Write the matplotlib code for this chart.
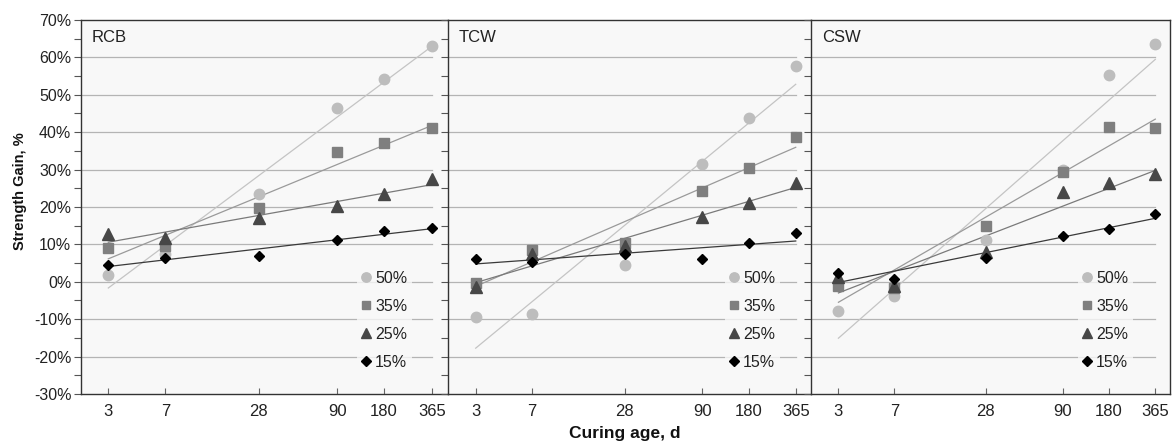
import numpy as np
import matplotlib
matplotlib.use("Agg")
import matplotlib.pyplot as plt
from matplotlib.ticker import FixedLocator, MultipleLocator, FuncFormatter, NullFormatter

plt.rcParams['font.family'] = ['Liberation Sans', 'DejaVu Sans']

# ---- data ----
ages = [3, 7, 28, 90, 180, 365]
age_labels = ["3", "7", "28", "90", "180", "365"]
panels = ["RCB", "TCW", "CSW"]
series = ["50%", "35%", "25%", "15%"]

rcb_50 = [1.9, 7.5, 23.6, 46.6, 54.2, 63.1]
rcb_35 = [9.0, 9.7, 19.7, 34.6, 37.0, 41.0]
rcb_25 = [12.7, 11.7, 17.0, 20.2, 23.6, 27.6]
rcb_15 = [4.5, 6.4, 7.0, 11.2, 13.5, 14.3]

tcw_50 = [-9.3, -8.7, 4.5, 31.6, 43.8, 57.6]
tcw_35 = [-0.4, 8.4, 10.3, 24.4, 30.4, 38.7]
tcw_25 = [-1.4, 7.3, 9.5, 17.3, 21.2, 26.3]
tcw_15 = [6.2, 5.4, 7.3, 6.0, 10.3, 13.1]

csw_50 = [-7.7, -3.9, 11.3, 29.8, 55.3, 63.5]
csw_35 = [-1.0, -1.6, 14.8, 29.4, 41.3, 41.1]
csw_25 = [1.2, -1.0, 7.9, 24.0, 26.3, 28.7]
csw_15 = [2.3, 0.8, 6.3, 12.2, 14.2, 18.1]

data = {
    "RCB": [rcb_50, rcb_35, rcb_25, rcb_15],
    "TCW": [tcw_50, tcw_35, tcw_25, tcw_15],
    "CSW": [csw_50, csw_35, csw_25, csw_15],
}

# ---- styles ----
markers = ['o', 's', '^', 'D']
msizes = [7.5, 6.5, 8, 5.5]
mcolors = ['#bdbdbd', '#7f7f7f', '#474747', '#000000']
lcolors = ['#c4c4c4', '#9a9a9a', '#7a7a7a', '#3a3a3a']

W, H = 1174, 448
fig = plt.figure(figsize=(W / 100, H / 100), dpi=100)
fig.patch.set_facecolor('white')

panel_px = [(81, 448), (448, 811), (811, 1170)]
top_px, bot_px = 20, 394
xlims = [(2.0, 465), (1.98, 459), (1.98, 456)]
leg_right = [0.924, 0.937, 0.919]

spine_col = '#333333'
for i, name in enumerate(panels):
    x0, x1 = panel_px[i]
    ax = fig.add_axes([x0 / W, 1 - bot_px / H, (x1 - x0) / W, (bot_px - top_px) / H])
    ax.set_facecolor('#f8f8f8')
    ax.set_xscale('log')
    ax.set_xlim(*xlims[i])
    ax.set_ylim(-30, 70)

    # gridlines up to last age
    for g in range(-20, 70, 10):
        ax.plot([xlims[i][0], ages[-1]], [g, g], color='#b4b4b4', lw=0.9, zorder=1)

    lnx = np.log(ages)
    handles = []
    for k, vals in enumerate(data[name]):
        a, b = np.polyfit(lnx, vals, 1)
        xs = np.array([ages[0], ages[-1]])
        ax.plot(xs, a * np.log(xs) + b, color=lcolors[k], lw=0.9, zorder=2)
        h, = ax.plot(ages, vals, linestyle='none', marker=markers[k], ms=msizes[k],
                     color=mcolors[k], mec=mcolors[k], zorder=3 + k, label=series[k])
        handles.append(h)

    leg = ax.legend(handles=handles, loc='lower right', bbox_to_anchor=(leg_right[i], 0.03),
                    frameon=True, fontsize=11.5, handlelength=0.6, handletextpad=0.25,
                    labelspacing=0.82, borderpad=0.3, markerscale=0.9)
    leg.get_frame().set_facecolor('#f8f8f8')
    leg.get_frame().set_edgecolor('none')
    leg.get_frame().set_boxstyle('square', pad=0)
    leg.set_zorder(10)
    for t in leg.get_texts():
        t.set_color('#222222')

    ax.text(0.03, 0.952, name, transform=ax.transAxes, fontsize=12,
            ha='left', va='center', color='#222222')

    # x ticks
    ax.xaxis.set_major_locator(FixedLocator(ages))
    ax.xaxis.set_major_formatter(FuncFormatter(lambda v, p: age_labels[ages.index(int(round(v)))] if int(round(v)) in ages else ""))
    ax.xaxis.set_minor_formatter(NullFormatter())
    ax.xaxis.set_minor_locator(FixedLocator([]))
    ax.tick_params(axis='x', direction='in', length=4, width=0.8, color='#666666',
                   labelsize=12, labelcolor='#222222', pad=7)

    # y ticks
    ax.yaxis.set_major_locator(MultipleLocator(10))
    ax.yaxis.set_minor_locator(MultipleLocator(5))
    ax.tick_params(axis='y', which='both', direction='out', length=5, width=0.8,
                   color='#555555', labelsize=11.5, labelcolor='#222222', pad=2)
    if i == 0:
        ax.yaxis.set_major_formatter(FuncFormatter(lambda v, p: f"{int(round(v))}%"))
    else:
        ax.yaxis.set_major_formatter(NullFormatter())

    for s in ['left', 'bottom', 'top', 'right']:
        ax.spines[s].set_color(spine_col)
        ax.spines[s].set_linewidth(1.0)
    if i < 2:
        ax.spines['right'].set_visible(False)

fig.text(20 / W, 1 - 191 / H, "Strength Gain, %", rotation=90, ha='center', va='center',
         fontsize=10.5, fontweight='bold', color='#111111')
fig.text(625 / W, 1 - 433 / H, "Curing age, d", ha='center', va='center',
         fontsize=12.5, fontweight='bold', color='#111111')

fig.savefig("out.png", dpi=100)
